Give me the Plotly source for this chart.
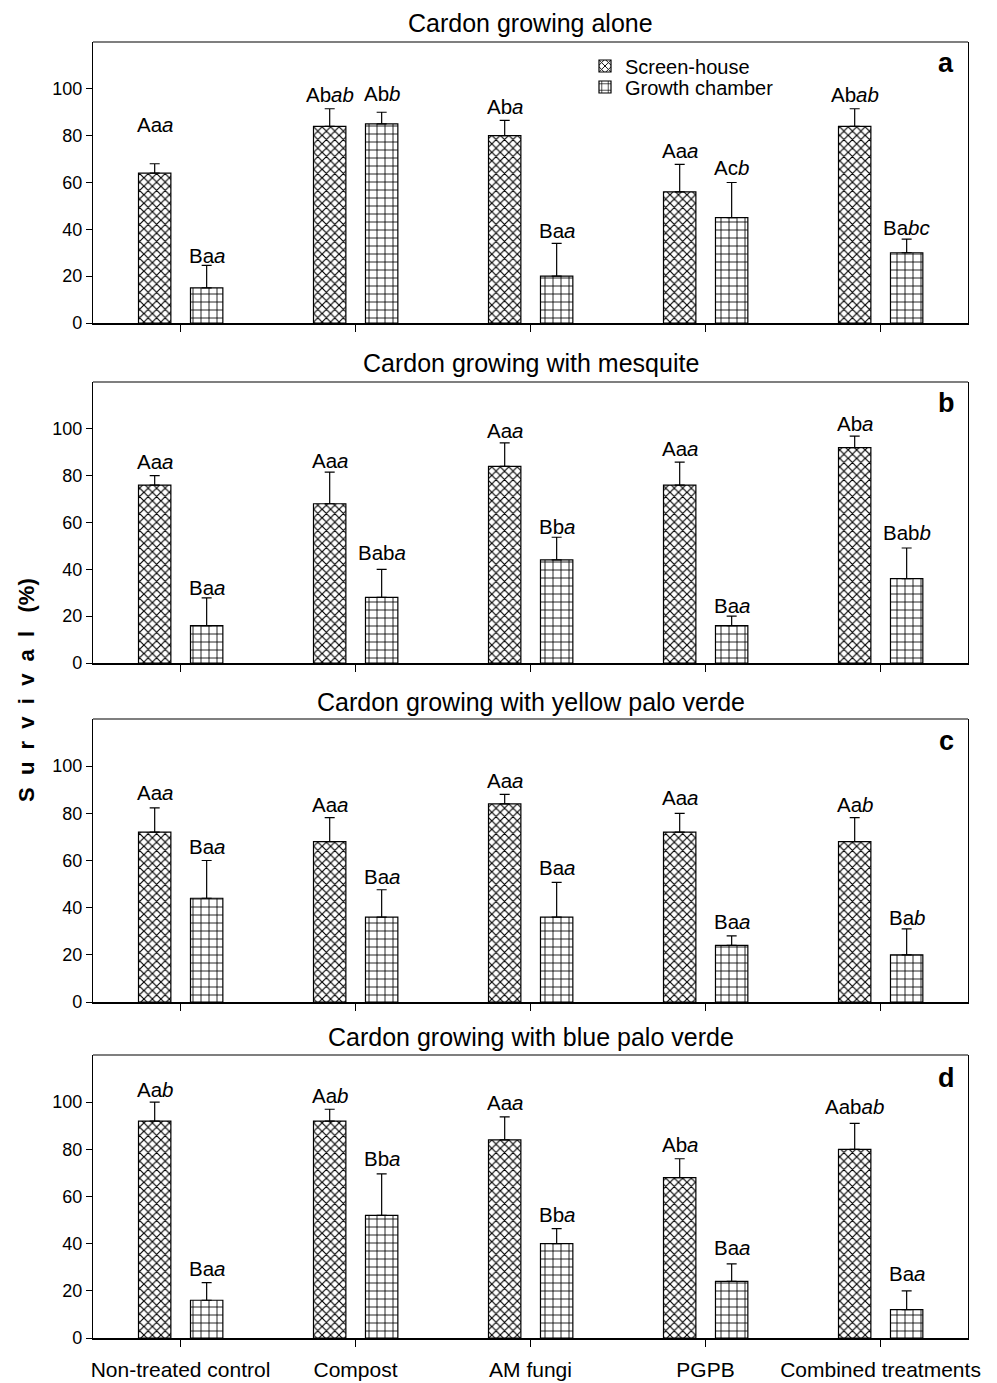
import plotly.graph_objects as go

categories = ["Non-treated control", "Compost", "AM fungi", "PGPB", "Combined treatments"]
panel_titles = [
    "Cardon growing alone",
    "Cardon growing with mesquite",
    "Cardon growing with yellow palo verde",
    "Cardon growing with blue palo verde",
]
panel_letters = ["a", "b", "c", "d"]
series_names = ["Screen-house", "Growth chamber"]
y_ticks = [0, 20, 40, 60, 80, 100]

# Panel a: Cardon growing alone
sh_a = [64, 84, 80, 56, 84]
sh_a_se = [4, 7.5, 6.5, 11.7, 7.5]
gc_a = [15, 85, 20, 45, 30]
gc_a_se = [9.6, 5, 14, 15, 5.8]
sh_a_lab = [("Aa", "a"), ("Ab", "ab"), ("Ab", "a"), ("Aa", "a"), ("Ab", "ab")]
gc_a_lab = [("Ba", "a"), ("Ab", "b"), ("Ba", "a"), ("Ac", "b"), ("Ba", "bc")]
sh_a_lab_y = [84.7, 97.6, 92.3, 73.8, 97.6]
gc_a_lab_y = [28.8, 97.9, 39.5, 66.2, 40.6]

# Panel b: with mesquite
sh_b = [76, 68, 84, 76, 92]
sh_b_se = [4, 13.5, 10, 9.8, 4.9]
gc_b = [16, 28, 44, 16, 36]
gc_b_se = [11.8, 12, 9.7, 4, 13.1]
sh_b_lab = [("Aa", "a"), ("Aa", "a"), ("Aa", "a"), ("Aa", "a"), ("Ab", "a")]
gc_b_lab = [("Ba", "a"), ("Bab", "a"), ("Bb", "a"), ("Ba", "a"), ("Bab", "b")]
sh_b_lab_y = [85.9, 86.6, 99.4, 91.6, 102.3]
gc_b_lab_y = [32.2, 47.4, 58.4, 24.6, 55.6]

# Panel c: with yellow palo verde
sh_c = [72, 68, 84, 72, 68]
sh_c_se = [10.3, 10.2, 4, 8, 10.2]
gc_c = [44, 36, 36, 24, 20]
gc_c_se = [16, 11.6, 14.7, 4, 11]
sh_c_lab = [("Aa", "a"), ("Aa", "a"), ("Aa", "a"), ("Aa", "a"), ("Aa", "b")]
gc_c_lab = [("Ba", "a"), ("Ba", "a"), ("Ba", "a"), ("Ba", "a"), ("Ba", "b")]
sh_c_lab_y = [89, 83.6, 93.9, 86.9, 83.6]
gc_c_lab_y = [66, 53.2, 57.2, 34.3, 36]

# Panel d: with blue palo verde
sh_d = [92, 92, 84, 68, 80]
sh_d_se = [8, 5, 9.8, 8, 11]
gc_d = [16, 52, 40, 24, 12]
gc_d_se = [7.5, 17.6, 6.4, 7.4, 8]
sh_d_lab = [("Aa", "b"), ("Aa", "b"), ("Aa", "a"), ("Ab", "a"), ("Aab", "ab")]
gc_d_lab = [("Ba", "a"), ("Bb", "a"), ("Bb", "a"), ("Ba", "a"), ("Ba", "a")]
sh_d_lab_y = [105.5, 103, 99.7, 82, 98]
gc_d_lab_y = [29.4, 76, 52.5, 38.2, 27.3]

panels = [
    (sh_a, sh_a_se, gc_a, gc_a_se, sh_a_lab, gc_a_lab, sh_a_lab_y, gc_a_lab_y),
    (sh_b, sh_b_se, gc_b, gc_b_se, sh_b_lab, gc_b_lab, sh_b_lab_y, gc_b_lab_y),
    (sh_c, sh_c_se, gc_c, gc_c_se, sh_c_lab, gc_c_lab, sh_c_lab_y, gc_c_lab_y),
    (sh_d, sh_d_se, gc_d, gc_d_se, sh_d_lab, gc_d_lab, sh_d_lab_y, gc_d_lab_y),
]

# ---- styling ----
PAGE_OFF = 8                      # browser body margin
W, H = 997 - 2 * PAGE_OFF, 1383 - PAGE_OFF
AX_L, AX_R = 93, 968              # page x of plot area edges
ML, MR = AX_L - PAGE_OFF, (997 - PAGE_OFF) - AX_R
PW = W - ML - MR
FONT = "Liberation Sans, Arial, Helvetica, sans-serif"
BAR_W = 0.185
OFF_SH = -0.24
OFF_GC = 0.057
panel_px = [(42, 323), (382, 663), (719, 1002), (1055, 1338)]
title_px = [23, 363, 702, 1037]
letter_px = [63, 403, 741, 1078]


def px_x(page_x):
    return (page_x - AX_L) / PW


def px_y(page_y):
    return 1 - (page_y - PAGE_OFF) / H


pat_sh = dict(shape="x", size=6, solidity=0.35, fgcolor="black", bgcolor="white")
pat_gc = dict(shape="+", size=8, solidity=0.2, fgcolor="black", bgcolor="white")

fig = go.Figure()
annotations = []
shapes = []
layout = {}

for i, (sh, sh_se, gc, gc_se, sh_lab, gc_lab, sh_ly, gc_ly) in enumerate(panels):
    n = "" if i == 0 else str(i + 1)
    xa, ya = "x" + n, "y" + n
    for name, vals, se, off, pat, lg in [
        (series_names[0], sh, sh_se, OFF_SH, pat_sh, "legend"),
        (series_names[1], gc, gc_se, OFF_GC, pat_gc, "legend2"),
    ]:
        fig.add_trace(go.Bar(
            x=categories, y=vals, xaxis=xa, yaxis=ya, name=name,
            width=BAR_W, offset=off, showlegend=(i == 0), legend=lg,
            marker=dict(color="white", line=dict(color="black", width=1.2), pattern=pat),
            error_y=dict(type="data", array=se, arrayminus=[0] * len(se), symmetric=False,
                         color="black", thickness=1.2, width=5),
        ))
    for labs, ly, off in [(sh_lab, sh_ly, OFF_SH), (gc_lab, gc_ly, OFF_GC)]:
        for k, ((norm, ital), yv) in enumerate(zip(labs, ly)):
            annotations.append(dict(
                x=k + off + BAR_W / 2, y=yv, xref=xa, yref=ya,
                text=f"{norm}<i>{ital}</i>", showarrow=False,
                xanchor="center", yanchor="middle",
                font=dict(family=FONT, size=20.5, color="black"),
            ))
    top, bot = panel_px[i]
    dom = [px_y(bot), px_y(top)]
    layout["xaxis" + n] = dict(
        type="category", range=[-0.5, 4.5], domain=[0, 1], anchor=ya,
        showline=True, linecolor="black", linewidth=2, mirror=False,
        ticks="outside", ticklen=7, tickwidth=1.2, tickcolor="black",
        showgrid=False, zeroline=False, showticklabels=(i == 3),
        tickfont=dict(family=FONT, size=21, color="black"),
        ticklabelstandoff=5, automargin=False,
    )
    layout["yaxis" + n] = dict(
        range=[0, 120], domain=dom, anchor=xa, tickvals=y_ticks,
        showline=True, linecolor="black", linewidth=1.2, mirror=True,
        ticks="outside", ticklen=6, tickwidth=1.2, tickcolor="black",
        showgrid=False, zeroline=False, automargin=False,
        tickfont=dict(family=FONT, size=18, color="black"),
    )
    shapes.append(dict(type="line", xref=xa + " domain", yref=ya + " domain",
                       x0=0, x1=1, y0=1, y1=1, line=dict(color="black", width=1.2)))
    annotations.append(dict(
        x=0.5, y=px_y(title_px[i]), xref="paper", yref="paper",
        text=panel_titles[i], showarrow=False, xanchor="center", yanchor="middle",
        font=dict(family=FONT, size=25, color="black"),
    ))
    annotations.append(dict(
        x=px_x(946), y=px_y(letter_px[i]), xref="paper", yref="paper",
        text=f"<b>{panel_letters[i]}</b>", showarrow=False, xanchor="center", yanchor="middle",
        font=dict(family=FONT, size=27, color="black"),
    ))

nb = "\u00a0"
annotations.append(dict(
    x=px_x(26), y=px_y(690), xref="paper", yref="paper",
    text="<b>" + (nb * 2).join("Survival") + nb * 3 + "(%)</b>", textangle=-90,
    showarrow=False, xanchor="center", yanchor="middle",
    font=dict(family=FONT, size=22, color="black"),
))

leg_common = dict(xanchor="left", yanchor="middle", xref="paper", yref="paper",
                  bgcolor="rgba(0,0,0,0)", font=dict(family=FONT, size=20, color="black"))
fig.update_layout(
    template="none",
    width=W, height=H, margin=dict(l=ML, r=MR, t=0, b=0, autoexpand=False),
    paper_bgcolor="white", plot_bgcolor="white",
    barmode="overlay", annotations=annotations, shapes=shapes,
    font=dict(family=FONT, color="black"),
    legend=dict(x=px_x(625 - 40), y=px_y(66), **leg_common),
    legend2=dict(x=px_x(625 - 40), y=px_y(87), **leg_common),
    **layout,
)

fig.write_html("out.html")
